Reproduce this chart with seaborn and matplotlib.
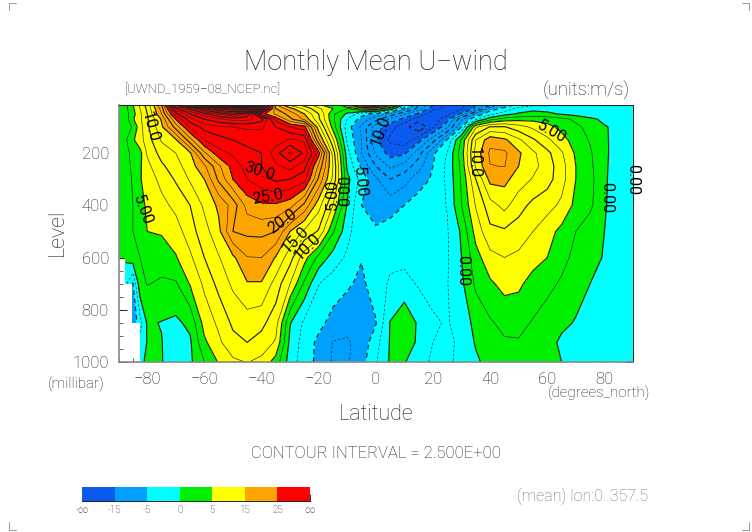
import numpy as np
import seaborn as sns
import matplotlib
matplotlib.use('Agg')
import matplotlib.pyplot as plt
from matplotlib.colors import ListedColormap, BoundaryNorm
from matplotlib.lines import Line2D

nan = np.nan

lat = [-90, -87.5, -85, -82.5, -80, -75, -70, -65, -60, -55, -50, -45, -40, -35, -30, -25, -20, -15, -10, -5,
       0, 5, 10, 15, 20, 25, 30, 35, 40, 45, 50, 55, 60, 65, 70, 75, 80, 85, 90]
level = [1000, 925, 850, 700, 600, 500, 400, 300, 250, 200, 150, 100, 70, 50, 30, 16]

u_1000 = [nan, nan, nan, -0.5, 0.4, 0.1, -1, -0.5, 2.5, 5.2, 7, 7.6, 6.8, 3.9, -1.3, -3.8, -5.7, -7.8, -7.8, -6,
          -2.7, 0.3, 0.2, -1.8, -2.8, -2.7, -2.2, -0.5, 1, 1.7, 1.8, 1.5, 1, 0, -1, -1, -1, -1, -1]
u_925 = [nan, nan, nan, -1.5, 0.1, 0.1, -1.5, -0.4, 4.5, 7, 9.2, 10, 9, 7.2, -0.7, -3.6, -5.6, -7.6, -7.8, -6.6,
         -3.5, 0.2, 1.5, -0.5, -2.5, -2.8, -2.2, 0.3, 1.6, 2.2, 2.3, 1.8, 1, -0.5, -1.2, -1.2, -1, -1, -1]
u_850 = [nan, nan, -7, -3.5, 0.3, -0.1, -0.5, 0.6, 6, 8, 10.5, 11.3, 10.7, 8.5, 0.2, -3, -4.3, -5.8, -6.7, -6,
         -5.2, 0.1, 1.8, -0.4, -2.2, -2.7, -1.5, 0.8, 2.2, 3.2, 3.2, 2.3, 1.5, 0.6, -0.2, -1, -1, -1, -1]
u_700 = [nan, -2, -5.2, 1.8, 2.6, 2.2, 2.2, 5.2, 8, 10.8, 13, 14.8, 14.8, 11.5, 7.5, 2, -2.4, -3.8, -4.6, -5.6,
         -3.6, -2.2, -1.6, -2.8, -3.2, -2.6, -0.5, 3, 4.6, 5.8, 5.5, 4, 3.1, 2.2, 1.1, 0, -1.3, -1.4, -1.5]
u_600 = [0.3, 0.5, 1.5, 2.5, 3, 3.4, 4.8, 7, 10, 12.3, 14.5, 17.4, 17.5, 14.8, 11, 6, 1.7, -1, -3, -4.85,
         -3.8, -3, -3.2, -3.5, -3.5, -2.8, 0, 4, 6.7, 7.5, 7, 6, 5, 3.2, 1.9, 0.9, -0.2, -1.5, -2]
u_500 = [1.5, 2, 2.5, 3.2, 5, 5.3, 6.3, 8.9, 11.5, 14.3, 20, 20.6, 20.7, 20, 15, 12, 9.7, 2.8, -1.5, -4.9,
         -4.7, -4, -3.2, -3, -3, -2.7, 0.4, 6, 9.4, 9.6, 8.8, 7.5, 6, 4.3, 2.5, 1.2, 0, -1.7, -2.3]
u_400 = [1, 1.8, 2.5, 4.4, 5.3, 6.7, 8.2, 10, 13, 15.5, 18.5, 23.5, 24.6, 24.6, 23.5, 19.3, 13.5, 7.5, -0.2, -5,
         -6, -6, -5, -4, -3.4, -2.4, 2.5, 7.7, 11.5, 13.3, 11, 9.3, 8.4, 7, 4.3, 3, 0.3, -1.6, -2.3]
u_300 = [1, 1.6, 2.7, 4.8, 6, 8.3, 10.3, 12.8, 15, 20.5, 25, 27.5, 29, 30.5, 30, 28.5, 19.5, 12, 0.8, -3.5,
         -7, -10, -8.5, -6, -4.7, -2, 2.8, 10, 15.8, 15.7, 13.8, 12.3, 11, 8.5, 5, 3.3, 0.4, -1.5, -2]
u_250 = [1, 1.8, 2.9, 4.6, 6.8, 9.5, 11.5, 13.8, 17, 22, 26, 28.5, 30, 32, 33.5, 31, 22, 12.5, -0.5, -5.5,
         -10, -13, -11.5, -8.5, -5, -1.9, 3.2, 13, 17.4, 17.6, 15, 13.3, 11.3, 8.5, 5, 3, 0.5, -1.5, -2]
u_200 = [1, 2, 3, 4.2, 7.8, 11, 12.5, 14.6, 22, 26.5, 28, 29.5, 30, 34, 38, 34.5, 26, 11.5, -1.5, -7.5,
         -13, -16, -15.5, -11, -5.5, -2.4, 3.8, 13.5, 18, 18, 15.4, 13, 10.7, 7.8, 4.6, 2.8, 0.5, -1.2, -2]
u_150 = [0.5, 2.2, 4.6, 6.5, 8.7, 12.8, 14.6, 21.5, 27.5, 29, 30, 30.5, 30.8, 31, 33, 32, 18, 8, -3, -7.5,
         -14.5, -18, -19, -16, -11, -4.7, 3, 12.5, 16.6, 15.5, 13, 10.4, 8, 6, 3.8, 2.3, 0.4, -1, -1.5]
u_100 = [0.5, 1.2, 2.8, 6.5, 9.4, 14.5, 21, 28, 31, 32, 32.5, 33, 33, 30, 27.5, 26, 13.5, 4, -3.8, -8,
         -14, -16.5, -19, -22, -18, -13, -5, 7, 10.2, 10.2, 8.5, 7, 5.8, 4.3, 3, 1.8, 0.2, -0.6, -1]
u_70 = [0.5, 1.3, 4.7, 7, 9.6, 15.3, 25, 31.5, 35, 37, 38.5, 38.5, 36, 26.5, 20.5, 17, 10.5, 3, -2.5, -6,
        -9, -13, -16, -19, -19, -16, -8, -3, 1.5, 3.5, 4.2, 4.3, 4, 3.2, 2, 0.5, -0.5, -1, -1]
u_50 = [0.5, 1.5, 4, 7, 10, 17.5, 29, 35, 39, 43, 46, 42, 26, 22, 19, 15, 10, 3, -0.5, -4,
        -6, -8, -12, -15.5, -19, -18, -14.5, -7, -3.5, -1, 0.3, 1, 0.6, -0.3, -1, -1.5, -2, -2, -2]
u_30 = [0.3, 1.8, 4.5, 7.5, 10.5, 18.5, 34, 41, 47, 53, 56, 56, 40, 20, 16, 12, 8, 5, 2.5, 6,
        7, 2, -6, -11, -17, -18, -18, -14.5, -6, -4.5, -1.5, -0.8, -1, -1.5, -2, -2, -2, -2, -2]
u_16 = [0.3, 2, 5, 8, 11, 20, 40, 52, 60, 66, 70, 70, 50, 18, 12, 9, 6, 1.5, 9, 18,
        20, 12, -1, -10, -14.5, -18, -18, -15, -10, -6, -4.5, -3, -3, -2.5, -2.5, -2.5, -2.5, -2.5, -2.5]

fill_bounds = [-200, -15, -5, 0, 5, 15, 25, 200]
fill_colors = ['#0a5af0', '#00a0ff', '#00ffff', '#00f000', '#ffff00', '#ffa500', '#ff0000']
bar_labels = ['-∞', '-15', '-5', '0', '5', '15', '25', '∞']

line_labels = ['10.0', '5.00', '30.0', '25.0', '20.0', '15.0', '10.0', '5.00', '0.00', '5.00', '10.0',
               '10.0', '5.00', '0.00', '0.00', '0.00']
label_lat = [-79, -81.8, -40.6, -37.8, -32.5, -28, -24, -15.2, -10.4, -5.6, 1.7, 34.6, 61.5, 80.8, 89.9, 30.4]
label_lev = [100, 418, 269, 368, 460, 533, 560, 357, 342, 311, 116, 238, 120, 372, 303, 648]
label_rot = [-75, -70, -18, 10, 35, 45, 45, 90, 90, -85, 70, -90, -30, -90, -90, -90]

sns.set_theme(style='white')
plt.rcParams['font.family'] = ['Roboto', 'DejaVu Sans']
plt.rcParams['font.weight'] = 'light'
ink = '#1e1e1e'

U = np.ma.masked_invalid(np.array([u_1000, u_925, u_850, u_700, u_600, u_500, u_400, u_300,
                                   u_250, u_200, u_150, u_100, u_70, u_50, u_30, u_16]))
palette = sns.color_palette(fill_colors)
cmap = ListedColormap(palette)
norm = BoundaryNorm(fill_bounds, cmap.N)

fig = plt.figure(figsize=(7.52, 5.32), dpi=100)
ax = fig.add_axes([118.6 / 752, 170 / 532, 514.4 / 752, 257 / 532])

ax.contourf(lat, level, U, levels=fill_bounds, cmap=cmap, norm=norm, corner_mask=False)

line_levels = np.arange(-30, 75, 2.5)
widths = [0.85 if v % 5 == 0 else 0.45 for v in line_levels]
ax.contour(lat, level, U, levels=line_levels, colors='#202020', linewidths=widths,
           corner_mask=False, negative_linestyles=(0, (4, 3)))

for txt, x, y, r in zip(line_labels, label_lat, label_lev, label_rot):
    ax.text(x, y, txt, rotation=r, ha='center', va='center', fontsize=11.5, color='black',
            fontweight='normal', rotation_mode='anchor', clip_on=False)

ax.set_xlim(-90, 90)
ax.set_ylim(1000, 16)
ax.set_xticks(np.arange(-80, 81, 20))
ax.set_xticks(np.arange(-90, 91, 5), minor=True)
ax.set_yticks(np.arange(200, 1001, 200))
ax.set_yticks(np.arange(50, 1001, 50), minor=True)
ax.tick_params(which='major', direction='in', length=6, width=0.7, top=True, right=True,
               left=True, bottom=True, labelsize=12, labelcolor=ink, color='#202020', pad=7)
ax.tick_params(which='minor', direction='in', length=3, width=0.5, top=True, right=True,
               left=True, bottom=True, color='#202020')
for spine in ax.spines.values():
    spine.set_linewidth(0.7)
    spine.set_color('#202020')
ax.spines['left'].set_color('#888888')
ax.spines['left'].set_linewidth(1.2)
ax.spines['bottom'].set_color('#888888')
ax.spines['bottom'].set_linewidth(1.2)


def put(px, py, txt, **kw):
    fig.text(px / 752, 1 - py / 532, txt, color=kw.pop('color', ink), va='center', **kw)


put(376, 62, 'Monthly Mean U−wind', fontsize=19.5, ha='center')
put(125, 90, '[UWND_1959−08_NCEP.nc]', fontsize=9.5, ha='left')
put(630, 90, '(units:m/s)', fontsize=13.5, ha='right')
put(57, 232, 'Level', fontsize=15.5, ha='center', rotation=90)
put(48, 384, '(millibar)', fontsize=11, ha='left')
put(376, 415, 'Latitude', fontsize=15.5, ha='center')
put(650, 393, '(degrees_north)', fontsize=11, ha='right')
put(376, 454, 'CONTOUR INTERVAL = 2.500E+00', fontsize=12, ha='center')
put(648, 496, '(mean) lon:0..357.5', fontsize=11.5, ha='right', color='#707070')

# colour bar along the bottom
cax = fig.add_axes([82 / 752, 1 - 501 / 532, 228 / 752, 14 / 532])
sns.heatmap(np.arange(len(fill_colors)).reshape(1, -1), ax=cax, cmap=cmap, cbar=False,
            xticklabels=False, yticklabels=False, linewidths=0)
cax.set_xticks(np.arange(len(bar_labels)))
cax.set_xticklabels(bar_labels, fontsize=7, color=ink)
cax.tick_params(axis='x', direction='in', length=5, width=0.6, color='#202020', pad=3, bottom=True)
cax.spines['bottom'].set_visible(True)
cax.spines['bottom'].set_linewidth(0.7)
cax.spines['bottom'].set_color('#202020')

# crop marks in the page corners
for x0, x1, y0, y1 in [(9, 16, 2.5, 10), (749, 742, 2.5, 10), (9, 16, 530, 522), (749, 742, 530, 522)]:
    fig.add_artist(Line2D([x0 / 752, x1 / 752], [1 - y0 / 532, 1 - y0 / 532], color='#999999', lw=0.7))
    fig.add_artist(Line2D([x0 / 752, x0 / 752], [1 - y0 / 532, 1 - y1 / 532], color='#999999', lw=0.7))

fig.savefig('out.png', dpi=100, facecolor='white')
